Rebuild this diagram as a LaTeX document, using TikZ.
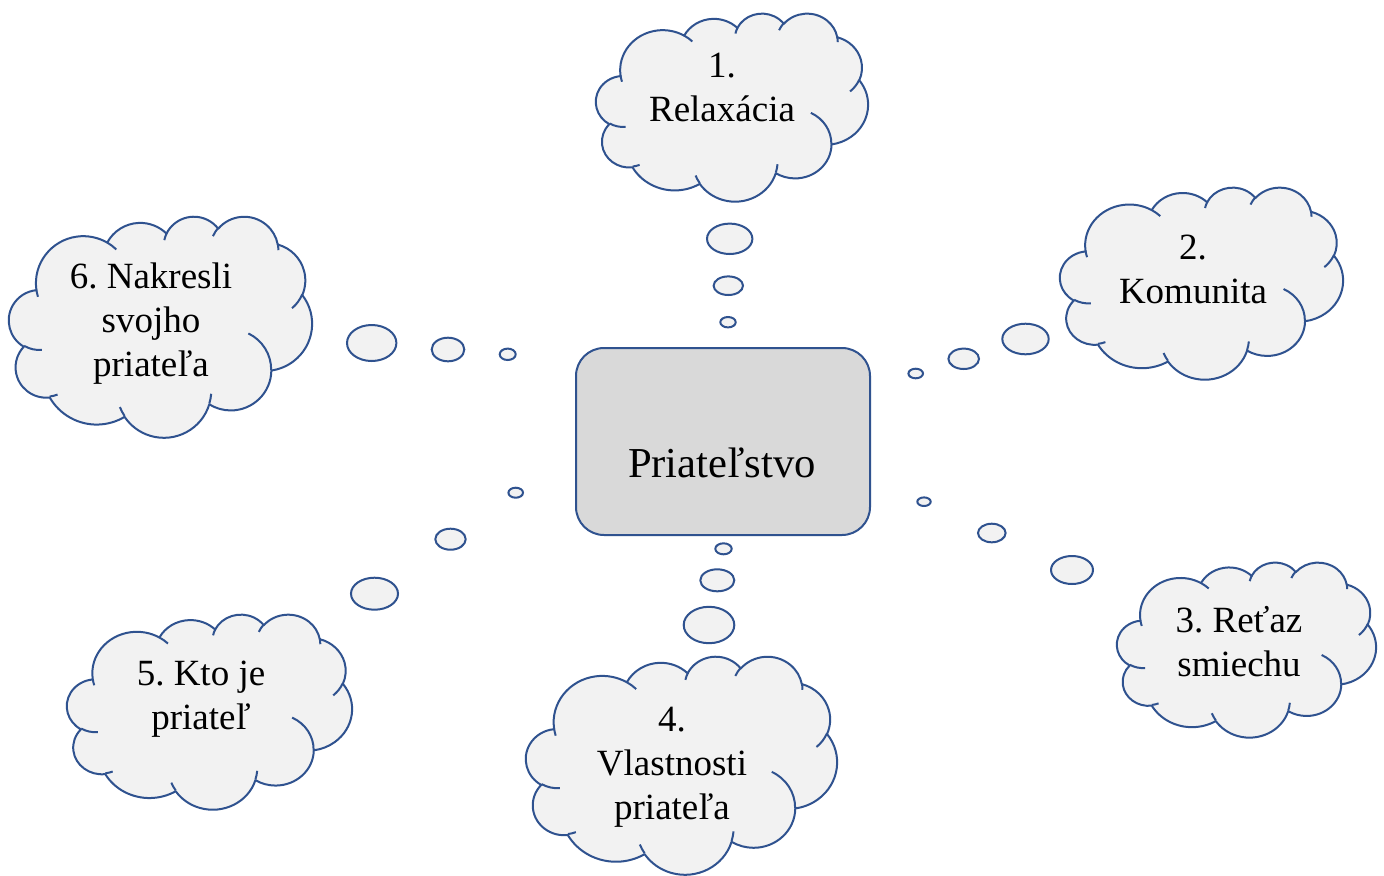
\documentclass[tikz,border=0pt]{standalone}
\usepackage{fontspec}
\setmainfont{Liberation Serif}
\usetikzlibrary{shapes.geometric}
\frenchspacing
\newdimen\pxu \pxu=0.75pt
\definecolor{lineblue}{HTML}{2F528F}
\definecolor{cloudgray}{HTML}{F2F2F2}
\definecolor{boxgray}{HTML}{D9D9D9}
% OOXML-style arc (visual angles) -> TikZ parametric arc
\newcommand\ooarc[5]{%
  \pgfmathsetmacro\ooA{atan2((#2)*sin(#4),(#3)*cos(#4))}%
  \pgfmathsetmacro\ooB{atan2((#2)*sin((#4)+(#5)),(#3)*cos((#4)+(#5)))}%
  \pgfmathsetmacro\ooD{\ooB-\ooA}%
  \pgfmathsetmacro\ooD{\ooD-360*round((\ooD-(#5))/360)}%
  \expandafter\xdef\csname ooarc#1\endcsname{arc[start angle=\ooA, delta angle=\ooD, x radius=#2, y radius=#3]}%
}
\ooarc{A}{6.753}{9.190}{-190.4875}{123.7805}
\ooarc{B}{5.333}{7.267}{-144.1024}{89.9452}
\ooarc{C}{4.365}{5.945}{-145.8079}{99.7230}
\ooarc{D}{4.857}{6.595}{-130.9861}{117.2417}
\ooarc{E}{5.333}{7.273}{-78.7089}{109.0269}
\ooarc{F}{6.775}{9.220}{-46.2673}{130.2690}
\ooarc{G}{5.785}{7.867}{0.6250}{114.0333}
\ooarc{H}{6.752}{9.215}{22.4516}{115.1726}
\ooarc{I}{7.720}{10.543}{66.2426}{75.7110}
\ooarc{J}{4.360}{5.918}{-274.9421}{146.7356}
\ooarc{K}{4.345}{5.945}{-246.8285}{152.5189}
\ooarc{a}{4.345}{5.945}{86.7420}{26.4295}
\ooarc{b}{4.360}{5.918}{73.6105}{11.4475}
\ooarc{c}{6.752}{9.215}{137.6242}{14.0811}
\ooarc{d}{6.752}{9.215}{6.4533}{15.9984}
\ooarc{e}{5.785}{7.867}{-70.2924}{70.9174}
\ooarc{f}{5.333}{7.273}{30.3180}{27.7515}
\ooarc{g}{4.857}{6.595}{-13.7443}{14.8589}
\ooarc{h}{4.857}{6.595}{-149.1815}{18.1954}
\ooarc{i}{4.365}{5.945}{-163.4943}{17.6864}
\ooarc{j}{6.753}{9.190}{-66.7070}{12.3194}
\ooarc{k}{6.753}{9.190}{157.6544}{11.8582}
\newcommand\wordcloud[4]{%
  \begin{scope}[shift={(#1,#2)}, xscale=#3/43.2, yscale=#4/43.2]
    \filldraw[cloudbody] (3.9,14.37) \ooarcA \ooarcB \ooarcC \ooarcD \ooarcE \ooarcF \ooarcG \ooarcH \ooarcI \ooarcJ \ooarcK -- cycle;
    \draw[cloudbody, fill=none] (4.693,26.177) \ooarca (6.928,34.899) \ooarcb (16.478,39.090) \ooarcc (28.827,34.751) \ooarcd (34.129,22.954) \ooarce (41.798,15.354) \ooarcf (38.324,5.426) \ooarcg (29.078,3.952) \ooarch (22.141,4.720) \ooarci (14.000,5.192) \ooarcj (4.127,15.789) \ooarck;
  \end{scope}}
\begin{document}
\begin{tikzpicture}[x=0.75pt, y=-0.75pt,
  cloudbody/.style={draw=lineblue, fill=cloudgray, line width=1.5pt, line join=round},
  bubble/.style={ellipse, draw=lineblue, fill=cloudgray, line width=1.5pt, inner sep=0pt},
  hubbox/.style={rectangle, rounded corners=21pt, draw=lineblue, fill=boxgray, line width=1.5pt, inner sep=0pt},
  ctext/.style={anchor=base, inner sep=0pt, font=\fontsize{27.75}{33}\selectfont},
  htext/.style={anchor=base, inner sep=0pt, font=\fontsize{32}{38}\selectfont}]
\useasboundingbox (0,0) rectangle (1384,875);
\fill[white] (0,0) rectangle (1384,875);

% clouds
\wordcloud{596}{13}{272}{188}
\wordcloud{1060}{187}{283}{192}
\wordcloud{1117}{562}{259}{175}
\wordcloud{526}{656}{311}{218}
\wordcloud{67}{614}{285}{195}
\wordcloud{9}{216}{303}{221}

% texts
\node[ctext] (t1) at (722,77) {\begin{tabular}[t]{@{}c@{}}1.\\Relaxácia\end{tabular}};
\node[ctext] (t2) at (1193,259) {\begin{tabular}[t]{@{}c@{}}2.\\Komunita\end{tabular}};
\node[ctext] (t3) at (1239,632) {\begin{tabular}[t]{@{}c@{}}3. Reťaz\\smiechu\end{tabular}};
\node[ctext] (t4) at (672,731) {\begin{tabular}[t]{@{}c@{}}4.\\Vlastnosti\\priateľa\end{tabular}};
\node[ctext] (t5) at (201,685) {\begin{tabular}[t]{@{}c@{}}5. Kto je\\priateľ\end{tabular}};
\node[ctext] (t6) at (151,288) {\begin{tabular}[t]{@{}c@{}}6. Nakresli\\svojho\\priateľa\end{tabular}};

% central box
\node[hubbox, minimum width=294\pxu, minimum height=187\pxu] (hub) at (723,441.5) {};
\node[htext] (hubtext) at (722,477) {Priateľstvo};

% thought bubbles
\node[bubble, minimum width=45.4\pxu, minimum height=30.4\pxu] (b1a) at (729.7,238.8) {};
\node[bubble, minimum width=29.4\pxu, minimum height=18.6\pxu] (b1b) at (728.3,285.7) {};
\node[bubble, minimum width=15.4\pxu, minimum height=10.4\pxu] (b1c) at (728,322.2) {};

\node[bubble, minimum width=46.4\pxu, minimum height=30.6\pxu] (b2a) at (1025.5,339) {};
\node[bubble, minimum width=30.6\pxu, minimum height=20.4\pxu] (b2b) at (963.7,358.8) {};
\node[bubble, minimum width=14.6\pxu, minimum height=9.6\pxu] (b2c) at (915.7,373.5) {};

\node[bubble, minimum width=13.4\pxu, minimum height=8.6\pxu] (b3c) at (924,501.7) {};
\node[bubble, minimum width=27.6\pxu, minimum height=18.6\pxu] (b3b) at (991.8,533) {};
\node[bubble, minimum width=42\pxu, minimum height=28\pxu] (b3a) at (1072,570) {};

\node[bubble, minimum width=16.4\pxu, minimum height=11\pxu] (b4c) at (723.5,548.8) {};
\node[bubble, minimum width=34\pxu, minimum height=22\pxu] (b4b) at (717.3,580.3) {};
\node[bubble, minimum width=50.6\pxu, minimum height=36.4\pxu] (b4a) at (709,625) {};

\node[bubble, minimum width=14.6\pxu, minimum height=10\pxu] (b5c) at (515.7,492.7) {};
\node[bubble, minimum width=30.4\pxu, minimum height=21\pxu] (b5b) at (450.5,539.2) {};
\node[bubble, minimum width=47\pxu, minimum height=32\pxu] (b5a) at (374.5,593.7) {};

\node[bubble, minimum width=49.4\pxu, minimum height=36\pxu] (b6a) at (371.7,343) {};
\node[bubble, minimum width=32.6\pxu, minimum height=23.6\pxu] (b6b) at (448,349.5) {};
\node[bubble, minimum width=16\pxu, minimum height=11.4\pxu] (b6c) at (507.7,354.3) {};
\end{tikzpicture}
\end{document}
